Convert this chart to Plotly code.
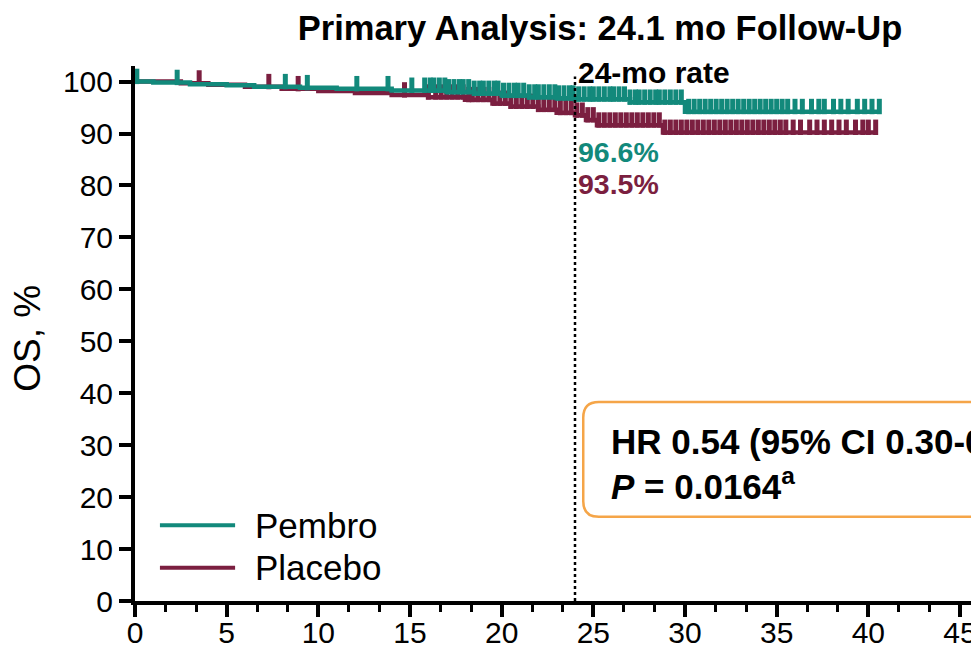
import numpy as np
import plotly.graph_objects as go

# ---- data ----
pembro_t = [0, 1.0, 3.0, 5.0, 6.5, 9.0, 11.0, 14.0, 17.0, 18.5, 20.0, 21.5, 23.0, 24.0, 27.0, 30.0, 40.6]
pembro_s = [100, 99.8, 99.5, 99.3, 99.0, 98.8, 98.6, 98.3, 98.0, 97.7, 97.3, 97.0, 96.8, 96.6, 96.0, 94.2, 94.2]
placebo_t = [0, 2.5, 4.0, 6.0, 8.0, 10.0, 12.0, 14.0, 16.0, 18.0, 19.5, 20.5, 22.0, 23.0, 24.0, 24.6, 25.2, 28.8, 40.4]
placebo_s = [100, 99.7, 99.4, 99.0, 98.6, 98.2, 97.8, 97.4, 97.0, 96.5, 95.8, 95.2, 94.6, 94.0, 93.5, 92.6, 91.6, 90.2, 90.2]

pembro_cens = [0.1, 2.3, 8.2, 9.4, 12.1, 13.8, 15.1,
               15.8, 16.1, 16.3, 16.6, 16.9, 17.1, 17.4, 17.7, 17.9, 18.2, 18.5, 18.8, 19.0, 19.3,
               19.6, 19.8, 20.1, 20.4, 20.7, 20.9, 21.2, 21.5, 21.8, 22.0, 22.3, 22.6, 22.9, 23.1,
               23.4, 23.7, 23.9, 24.2, 24.5, 24.8, 25.0, 25.3, 25.6, 25.9, 26.1, 26.4, 26.7, 27.0,
               27.3, 27.5, 27.8, 28.1, 28.4, 28.6, 28.9, 29.2, 29.5, 29.8, 30.2, 30.5, 30.8, 31.1,
               31.4, 31.7, 32.0, 32.3, 32.6, 32.9, 33.2, 33.5, 33.8, 34.1, 34.4, 34.7, 35.0, 35.3,
               35.6, 36.0, 36.4, 36.9, 37.3, 37.6, 38.1, 38.5, 38.9, 39.4, 39.8, 40.2, 40.6]
placebo_cens = [3.5, 7.3, 8.9, 14.7,
                16.0, 16.4, 16.7, 17.0, 17.3, 17.6, 17.9, 18.2, 18.4, 18.7, 19.0, 19.3, 19.6, 19.9,
                20.2, 20.5, 20.8, 21.1, 21.4, 21.7, 22.0, 22.3, 22.6, 22.9, 23.2, 23.5, 23.8, 24.1,
                24.4, 24.7, 25.0, 25.3, 25.6, 25.9, 26.2, 26.5, 26.8, 27.1, 27.4, 27.7, 28.0, 28.3,
                28.6, 28.9, 29.2, 29.5, 29.8, 30.1, 30.4, 30.7, 31.0, 31.3, 31.6, 31.9, 32.2, 32.5,
                32.8, 33.1, 33.4, 33.7, 34.0, 34.3, 34.6, 34.9, 35.2, 35.5, 35.9, 36.3, 36.8, 37.2,
                37.6, 38.0, 38.4, 38.8, 39.3, 39.7, 40.0, 40.4]

x_ticks = [0, 5, 10, 15, 20, 25, 30, 35, 40, 45]
y_ticks = [0, 10, 20, 30, 40, 50, 60, 70, 80, 90, 100]

TEAL = "#12897b"
MAROON = "#7b1f40"
ORANGE = "#f5a548"
FONT = "Liberation Sans, Arial, sans-serif"

def km_at(t, s, c):
    t = np.asarray(t); s = np.asarray(s); c = np.asarray(c)
    idx = np.searchsorted(t, c, side="right") - 1
    return s[idx]

TICK_OFF = 1.0  # censor ticks stand above the curve

fig = go.Figure()
for t, s, cens, col, name in [(placebo_t, placebo_s, placebo_cens, MAROON, "Placebo"),
                              (pembro_t, pembro_s, pembro_cens, TEAL, "Pembro")]:
    fig.add_trace(go.Scatter(x=t, y=s, mode="lines", line=dict(color=col, width=4.5, shape="hv"),
                             name=name, showlegend=False, cliponaxis=False))
    fig.add_trace(go.Scatter(x=cens, y=km_at(t, s, cens) + TICK_OFF, mode="markers",
                             marker=dict(symbol="line-ns", size=11, line=dict(color=col, width=5)),
                             showlegend=False, cliponaxis=False))

# vertical dotted line at 24 months
fig.add_shape(type="line", x0=24, x1=24, y0=0, y1=101, xref="x", yref="y",
              line=dict(color="black", width=2.5, dash="dot"))

# rounded orange box
x0, x1, y0, y1, rx, ry = 24.45, 52, 16.2, 38.3, 0.85, 3.0
path = (f"M {x0+rx},{y1} L {x1},{y1} L {x1},{y0} L {x0+rx},{y0} "
        f"Q {x0},{y0} {x0},{y0+ry} L {x0},{y1-ry} Q {x0},{y1} {x0+rx},{y1} Z")
fig.add_shape(type="path", path=path, xref="x", yref="y",
              line=dict(color=ORANGE, width=2.5), fillcolor="rgba(0,0,0,0)")

ann = []
ann.append(dict(x=24.05, y=101.7, text="<b>24-mo rate</b>", xanchor="left", yanchor="middle",
                showarrow=False, font=dict(family=FONT, size=30, color="black")))
ann.append(dict(x=24.05, y=86.5, text="<b>96.6%</b>", xanchor="left", yanchor="middle",
                showarrow=False, font=dict(family=FONT, size=28.5, color=TEAL)))
ann.append(dict(x=24.05, y=80.3, text="<b>93.5%</b>", xanchor="left", yanchor="middle",
                showarrow=False, font=dict(family=FONT, size=28.5, color=MAROON)))
ann.append(dict(x=25.85, y=30.8, text="<b>HR 0.54 (95% CI 0.30-0.97)</b>", xanchor="left", yanchor="middle",
                showarrow=False, font=dict(family=FONT, size=35, color="black")))
ann.append(dict(x=25.85, y=22.5, text="<b><i>P</i> = 0.0164<sup>a</sup></b>", xanchor="left", yanchor="middle",
                showarrow=False, font=dict(family=FONT, size=35, color="black")))
# legend
for yy, col, name in [(14.6, TEAL, "Pembro"), (6.4, MAROON, "Placebo")]:
    fig.add_shape(type="line", x0=1.36, x1=5.46, y0=yy, y1=yy, xref="x", yref="y",
                  line=dict(color=col, width=4))
    ann.append(dict(x=6.45, y=yy, text=name, xanchor="left", yanchor="middle", showarrow=False,
                    font=dict(family=FONT, size=35, color="black")))
# y-axis title
ann.append(dict(x=-0.128, y=0.492, xref="paper", yref="paper", text="OS, %", textangle=-90,
                showarrow=False, xanchor="center", yanchor="middle",
                font=dict(family=FONT, size=37, color="black")))

fig.update_layout(
    width=971, height=652,
    margin=dict(l=135, r=0, t=66.4, b=51),
    paper_bgcolor="white", plot_bgcolor="white",
    showlegend=False,
    annotations=ann,
    title=dict(text="<b>Primary Analysis: 24.1 mo Follow-Up</b>", x=600/971, xref="container",
               xanchor="center", y=1-28/652, yref="container", yanchor="middle",
               font=dict(family=FONT, size=34.5, color="black")),
)
fig.update_xaxes(range=[0, 45.6], tickvals=x_ticks, ticktext=[str(v) for v in x_ticks],
                 automargin=False, ticklabeloverflow="allow", ticklabelstandoff=-10,
                 showgrid=False, zeroline=False, showline=True, linecolor="black", linewidth=4,
                 ticks="outside", ticklen=12, tickwidth=4, tickcolor="black",
                 minor=dict(dtick=5/3, tick0=0, ticks="outside", ticklen=7, tickwidth=3, tickcolor="black", showgrid=False),
                 tickfont=dict(family=FONT, size=30, color="black"))
fig.update_yaxes(range=[0, 103], tickvals=y_ticks, ticktext=[str(v) for v in y_ticks],
                 automargin=False,
                 showgrid=False, zeroline=False, showline=True, linecolor="black", linewidth=4,
                 ticks="outside", ticklen=12, tickwidth=4, tickcolor="black",
                 tickfont=dict(family=FONT, size=30, color="black"))

fig.write_html("out.html")
